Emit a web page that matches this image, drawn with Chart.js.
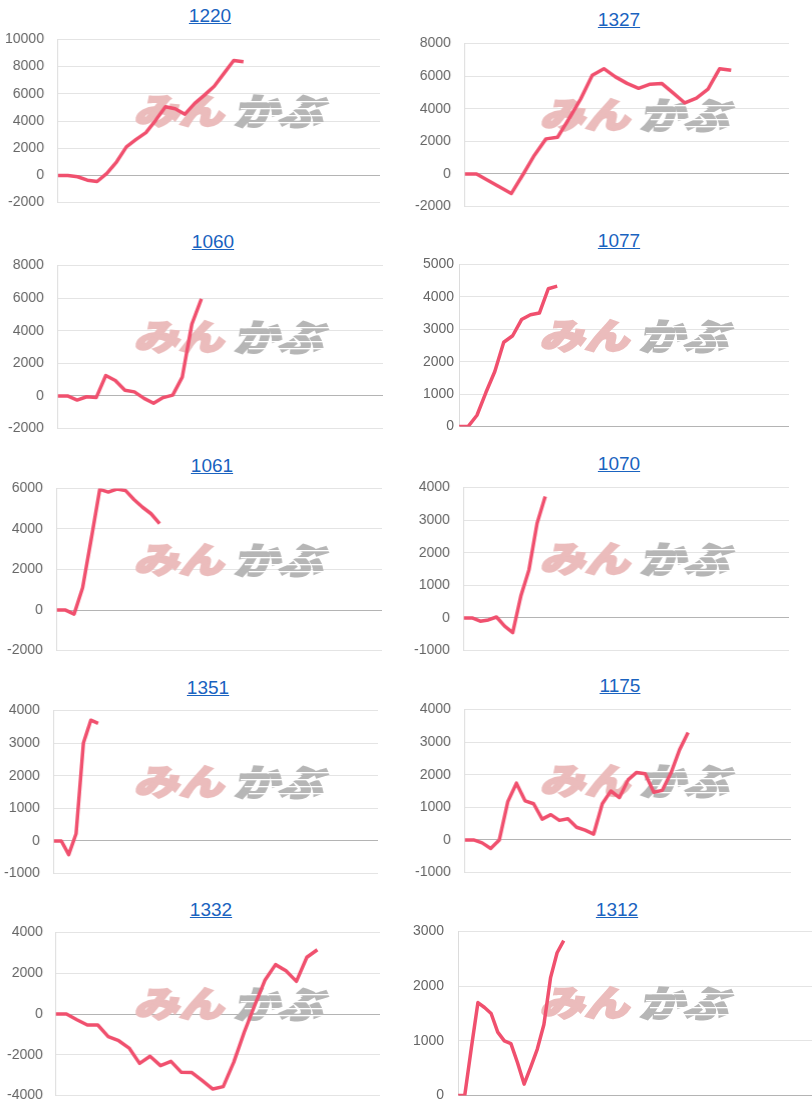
<!DOCTYPE html>
<html>
<head>
<meta charset="utf-8">
<script src="https://cdn.jsdelivr.net/npm/chart.js@4.4.1/dist/chart.umd.min.js"></script>
<style>
body { margin: 0; background: #fff; width: 812px; height: 1110px; overflow: hidden; position: relative; font-family: Arial, "Liberation Sans", sans-serif; }
a.code { position: absolute; transform: translate(-50%, -50%); color: #1a63c0; font-size: 19px; text-decoration: underline; white-space: nowrap; }
canvas { position: absolute; }
</style>
</head>
<body>
<script>
// stock codes, one chart each
const codes = ['1220', '1327', '1060', '1077', '1061', '1070', '1351', '1175', '1332', '1312'];
// how many days each x axis holds
const dayCounts = [34, 29, 35, 38, 39, 41, 45, 39, 32, 61];

const values1220 = [0, 0, -100, -350, -450, 150, 1000, 2100, 2650, 3150, 4050, 5050, 4900, 4500, 5300, 5900, 6550, 7500, 8450, 8350];
const values1327 = [0, 0, -400, -800, -1200, -50, 1150, 2150, 2250, 3400, 4600, 6050, 6450, 5950, 5550, 5250, 5500, 5550, 4950, 4350, 4650, 5200, 6450, 6350];
const values1060 = [0, 0, -250, -50, -100, 1250, 950, 350, 250, -150, -450, -100, 50, 1150, 4400, 5950];
const values1077 = [0, 0, 350, 1050, 1700, 2600, 2800, 3300, 3450, 3500, 4250, 4330];
const values1061 = [0, 0, -200, 1100, 3500, 5950, 5820, 5970, 5900, 5450, 5070, 4750, 4260];
const values1070 = [0, 0, -100, -60, 30, -250, -450, 670, 1480, 2900, 3720];
const values1351 = [0, 0, -420, 220, 3000, 3700, 3600];
const values1175 = [0, 0, -90, -260, 0, 1180, 1740, 1200, 1110, 640, 775, 600, 650, 390, 300, 180, 1110, 1500, 1300, 1840, 2070, 2030, 1460, 1520, 2050, 2760, 3290];
const values1332 = [0, 0, -280, -540, -540, -1110, -1310, -1670, -2420, -2070, -2530, -2320, -2860, -2870, -3270, -3680, -3560, -2370, -900, 410, 1670, 2420, 2120, 1600, 2780, 3150];
const values1312 = [0, 0, 870, 1700, 1610, 1500, 1160, 1000, 950, 600, 210, 520, 850, 1300, 2150, 2610, 2830];

const ticks1220 = [-2000, 0, 2000, 4000, 6000, 8000, 10000];
const ticks1327 = [-2000, 0, 2000, 4000, 6000, 8000];
const ticks1060 = [-2000, 0, 2000, 4000, 6000, 8000];
const ticks1077 = [0, 1000, 2000, 3000, 4000, 5000];
const ticks1061 = [-2000, 0, 2000, 4000, 6000];
const ticks1070 = [-1000, 0, 1000, 2000, 3000, 4000];
const ticks1351 = [-1000, 0, 1000, 2000, 3000, 4000];
const ticks1175 = [-1000, 0, 1000, 2000, 3000, 4000];
const ticks1332 = [-4000, -2000, 0, 2000, 4000];
const ticks1312 = [0, 1000, 2000, 3000];

const seriesList = [values1220, values1327, values1060, values1077, values1061, values1070, values1351, values1175, values1332, values1312];
const tickList = [ticks1220, ticks1327, ticks1060, ticks1077, ticks1061, ticks1070, ticks1351, ticks1175, ticks1332, ticks1312];

// page placement of every cell (left edge, y axis, plot right/top/bottom, title centre, label gap)
const cells = [
    { left: 0,   axis: 58,  right: 380, top: 39,  bottom: 203,  tx: 210, ty: 16,  gap: 14 },
    { left: 406, axis: 465, right: 789, top: 43,  bottom: 207,  tx: 619, ty: 20,  gap: 14 },
    { left: 0,   axis: 58,  right: 383, top: 265, bottom: 429,  tx: 213, ty: 242, gap: 14 },
    { left: 406, axis: 459, right: 789, top: 264, bottom: 427,  tx: 619, ty: 241, gap: 5 },
    { left: 0,   axis: 57,  right: 382, top: 488, bottom: 651,  tx: 212, ty: 466, gap: 14 },
    { left: 406, axis: 464, right: 789, top: 487, bottom: 651,  tx: 619, ty: 464, gap: 14 },
    { left: 0,   axis: 54,  right: 378, top: 710, bottom: 874,  tx: 208, ty: 688, gap: 14 },
    { left: 406, axis: 465, right: 791, top: 709, bottom: 873,  tx: 620, ty: 686, gap: 14 },
    { left: 0,   axis: 56,  right: 380, top: 932, bottom: 1096, tx: 211, ty: 910, gap: 13 },
    { left: 406, axis: 458, right: 854, top: 931, bottom: 1096, tx: 617, ty: 910, gap: 14 }
];

function makeWatermark() {
    const c = document.createElement('canvas');
    c.width = 200; c.height = 36;
    const g = c.getContext('2d');
    const part = (text, color, x0, w, h) => {
        const lw = 2.5;
        g.font = '900 40px "Noto Sans CJK JP"';
        const m = g.measureText(text);
        const tw = m.actualBoundingBoxLeft + m.actualBoundingBoxRight + lw;
        const th = m.actualBoundingBoxAscent + m.actualBoundingBoxDescent + lw;
        g.save();
        g.translate(x0 + 0.25 * h, 0.5);
        g.transform(1, 0, -0.25, 1, 0, 0);
        g.scale(w / tw, h / th);
        g.fillStyle = color;
        g.strokeStyle = color;
        g.lineWidth = lw;
        g.lineJoin = 'miter';
        const px = m.actualBoundingBoxLeft + lw / 2, py = m.actualBoundingBoxAscent + lw / 2;
        g.fillText(text, px, py);
        g.strokeText(text, px, py);
        g.restore();
    };
    part('みん', '#ebbcbc', 0, 90, 35);
    part('かぶ', '#b6b6b6', 100, 90, 35);
    // speed stripes cut through the grey part
    g.globalCompositeOperation = 'destination-out';
    [8, 15, 22, 29].forEach((y, i) => g.fillRect(104 + i * 4, y, 100, 1.3));
    return c;
}

const wmImage = makeWatermark();

const watermark = {
    id: 'wm',
    beforeDatasetsDraw(chart, args, opts) {
        const a = chart.chartArea;
        const cx = a.left + opts.dx;
        const cy = a.top + 72;
        chart.ctx.drawImage(wmImage, Math.round(cx - wmImage.width / 2), Math.round(cy - wmImage.height / 2));
    }
};

function config(i) {
    const cell = cells[i];
    const ticks = tickList[i];
    const labels = Array.from({ length: dayCounts[i] }, (_, k) => String(k + 1));
    return {
        type: 'line',
        data: {
            labels: labels,
            datasets: [{
                data: seriesList[i],
                borderColor: '#f0506e',
                borderWidth: 3.5,
                borderJoinStyle: 'round',
                pointRadius: 0,
                tension: 0,
                fill: false
            }]
        },
        options: {
            responsive: false,
            maintainAspectRatio: false,
            animation: false,
            layout: { padding: 0 },
            plugins: {
                legend: { display: false },
                tooltip: { enabled: false },
                wm: { dx: 232 - (cell.axis - cell.left) }
            },
            scales: {
                x: {
                    ticks: { display: false },
                    grid: { display: false },
                    border: { display: false }
                },
                y: {
                    min: ticks[0],
                    max: ticks[ticks.length - 1],
                    afterBuildTicks: s => { s.ticks = ticks.map(v => ({ value: v })); },
                    ticks: {
                        padding: cell.gap,
                        color: '#666',
                        font: { size: 14, family: 'Arial, "Liberation Sans", sans-serif' },
                        callback: v => String(v)
                    },
                    grid: {
                        drawTicks: false,
                        color: ctx => ctx.tick && ctx.tick.value === 0 ? '#b4b4b4' : '#e4e4e4'
                    },
                    border: { color: '#dcdcdc' }
                }
            }
        },
        plugins: [watermark]
    };
}

codes.forEach((code, i) => {
    const cell = cells[i];
    const link = document.createElement('a');
    link.className = 'code';
    link.href = '#';
    link.textContent = code;
    link.style.left = cell.tx + 'px';
    link.style.top = cell.ty + 'px';
    document.body.appendChild(link);

    const canvas = document.createElement('canvas');
    document.body.appendChild(canvas);
    let w = cell.right - cell.left + 10;
    let h = cell.bottom - cell.top + 20;
    canvas.width = w; canvas.height = h;
    let chart = new Chart(canvas, config(i));
    const a = chart.chartArea;
    w += (cell.right - cell.axis) - (a.right - a.left);
    h += (cell.bottom - cell.top) - (a.bottom - a.top);
    chart.destroy();
    canvas.width = w; canvas.height = h;
    canvas.style.width = w + 'px'; canvas.style.height = h + 'px';
    chart = new Chart(canvas, config(i));
    const b = chart.chartArea;
    canvas.style.left = (cell.axis - b.left) + 'px';
    canvas.style.top = (cell.top - b.top) + 'px';
});
</script>
</body>
</html>
